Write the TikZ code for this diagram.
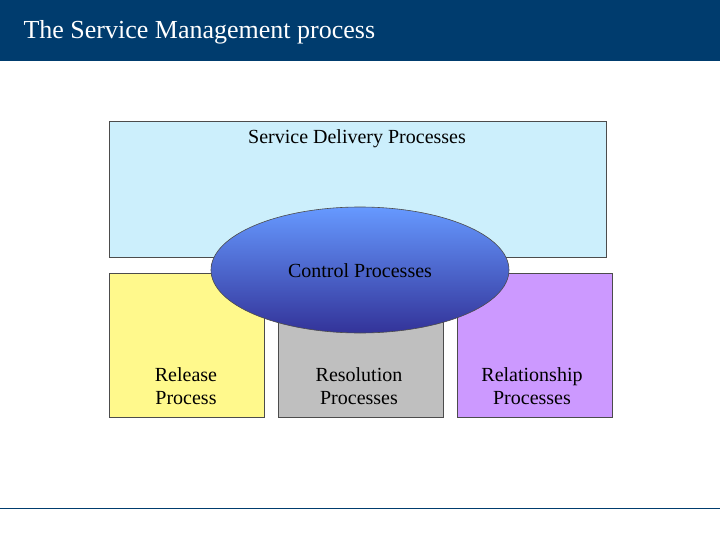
\documentclass[tikz,border=0pt]{standalone}
\usepackage{fontspec}
\setmainfont{Liberation Serif}
\usetikzlibrary{shapes.geometric}
\definecolor{hdr}{HTML}{003C6E}
\begin{document}
\begin{tikzpicture}[x=1pt,y=-1pt,
  box/.style={draw=black!70,line width=0.6pt,anchor=north west,inner sep=0pt},
  lbl/.style={font=\fontsize{20}{23}\selectfont,align=center}]
\useasboundingbox (0,0) rectangle (720,540);
\fill[hdr] (0,0) rectangle (720,61);
\node[anchor=west,text=white,font=\fontsize{26}{30}\selectfont] (title) at (20,32) {The Service Management process};
\draw[hdr,line width=0.8pt] (0,508) -- (720,508);
\node[box,fill=cyan!20,minimum width=497pt,minimum height=136pt] (sd) at (109,121) {};
\node[lbl,anchor=north] (sdl) at (357,126) {Service Delivery Processes};
\node[box,fill=yellow!45,minimum width=155pt,minimum height=144pt] (rel) at (109,273) {};
\node[box,fill=black!25,minimum width=165pt,minimum height=144pt] (res) at (278,273) {};
\node[box,fill={rgb,255:red,204;green,153;blue,255},minimum width=155pt,minimum height=144pt] (rsh) at (457,273) {};
\node[lbl] at (186,386) {Release\\Process};
\node[lbl] at (359,386) {Resolution\\Processes};
\node[lbl] at (532,386) {Relationship\\Processes};
\node[ellipse,draw=black!70,line width=0.6pt,minimum width=298pt,minimum height=126pt,
  top color={rgb,255:red,102;green,153;blue,255},bottom color={rgb,255:red,51;green,51;blue,153}] (ctl) at (360,270) {};
\node[lbl] at (360,271) {Control Processes};
\end{tikzpicture}
\end{document}
